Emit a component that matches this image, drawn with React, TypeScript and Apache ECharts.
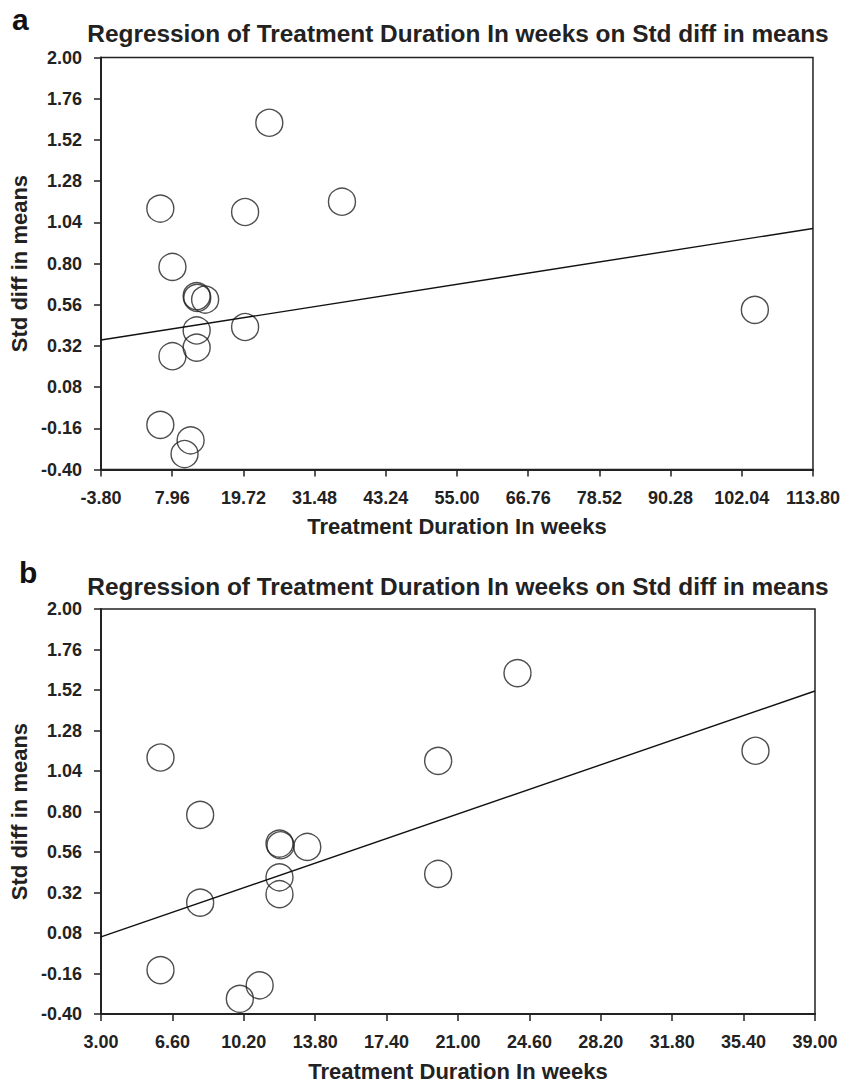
import React, { useEffect, useRef } from "react";
import * as echarts from "echarts";

const TITLE = "Regression of Treatment Duration In weeks on Std diff in means";
const X_NAME = "Treatment Duration In weeks";
const Y_NAME = "Std diff in means";

// Panel a: all studies (weeks, SMD)
const weeksA = [24, 6, 20, 36, 8, 12, 12.1, 13.4, 12, 20, 12, 8, 6, 11, 10, 104.2];
const smdA = [1.62, 1.12, 1.10, 1.16, 0.78, 0.61, 0.60, 0.59, 0.41, 0.43, 0.31, 0.26, -0.14, -0.23, -0.31, 0.53];
const fitA = [[-3.8, 0.354], [113.8, 1.004]];

// Panel b: without the outlier
const weeksB = [24, 6, 20, 36, 8, 12, 12.05, 13.4, 12, 20, 12, 8, 6, 11, 10];
const smdB = [1.62, 1.12, 1.10, 1.16, 0.78, 0.61, 0.60, 0.59, 0.41, 0.43, 0.31, 0.26, -0.14, -0.23, -0.31];
const fitB = [[3, 0.057], [39, 1.514]];

const xAxisA = { min: -3.8, max: 113.8, interval: 11.76 };
const xAxisB = { min: 3, max: 39, interval: 3.6 };
const yAxisRange = { min: -0.4, max: 2.0, interval: 0.24 };

const FONT = "'Liberation Sans', Arial, Helvetica, sans-serif";
const INK = "#222";

export default function App() {
  const ref = useRef<HTMLDivElement>(null);
  useEffect(() => {
    if (!ref.current) return;
    const chart = echarts.init(ref.current, undefined, { renderer: "svg" });
    const axisCommon = {
      type: "value" as const,
      axisLine: { show: true, onZero: false, lineStyle: { color: INK, width: 2 } },
      axisTick: { show: true, inside: false, length: 7, lineStyle: { color: INK, width: 1.5 } },
      splitLine: { show: false },
      axisLabel: {
        color: INK,
        fontFamily: FONT,
        fontWeight: "bold",
        fontSize: 18,
        margin: 19,
        formatter: (v: number) => v.toFixed(2),
      },
      nameTextStyle: { color: INK, fontFamily: FONT, fontWeight: "bold", fontSize: 22 },
    };
    const grids = [
      { left: 101, top: 57.5, width: 714, height: 412 },
      { left: 101, top: 609, width: 714, height: 413 },
    ].map((g) => ({ ...g, show: true, borderColor: INK, borderWidth: 1.5, backgroundColor: "transparent" }));
    const xRanges = [xAxisA, xAxisB];
    const mkPts = (xs: number[], ys: number[]) => xs.map((x, i) => [x, ys[i]]);
    const scatterStyle = {
      type: "scatter" as const,
      symbol: "circle",
      symbolSize: 27,
      clip: false,
      itemStyle: { color: "rgba(0,0,0,0)", borderColor: INK, borderWidth: 1.4 },
      silent: true,
    };
    const lineStyle = {
      type: "line" as const,
      symbol: "none",
      lineStyle: { color: "#111", width: 1.4 },
      silent: true,
    };
    chart.setOption({
      animation: false,
      grid: grids,
      xAxis: xRanges.map((r, i) => ({
        ...axisCommon,
        gridIndex: i,
        ...r,
        name: X_NAME,
        nameLocation: "middle",
        nameGap: 46,
      })),
      yAxis: [0, 1].map((i) => ({
        ...axisCommon,
        gridIndex: i,
        ...yAxisRange,
        name: Y_NAME,
        nameLocation: "middle",
        nameGap: 62,
      })),
      series: [
        { ...lineStyle, xAxisIndex: 0, yAxisIndex: 0, data: fitA },
        { ...scatterStyle, xAxisIndex: 0, yAxisIndex: 0, data: mkPts(weeksA, smdA) },
        { ...lineStyle, xAxisIndex: 1, yAxisIndex: 1, data: fitB },
        { ...scatterStyle, xAxisIndex: 1, yAxisIndex: 1, data: mkPts(weeksB, smdB) },
      ],
      graphic: [
        { type: "text", left: 12, top: 4, style: { text: "a", font: `bold 30px ${FONT}`, fill: "#111" } },
        { type: "text", left: 19, top: 557, style: { text: "b", font: `bold 30px ${FONT}`, fill: "#111" } },
        {
          type: "text",
          x: 458,
          y: 33.5,
          style: { text: TITLE, font: `bold 24.4px ${FONT}`, fill: INK, align: "center", verticalAlign: "middle" },
        },
        {
          type: "text",
          x: 458,
          y: 586.5,
          style: { text: TITLE, font: `bold 24.4px ${FONT}`, fill: INK, align: "center", verticalAlign: "middle" },
        },
      ],
    });
    return () => chart.dispose();
  }, []);
  return (
    <div
      ref={ref}
      style={{ position: "absolute", left: 0, top: 0, width: 843, height: 1083, background: "#fff" }}
    />
  );
}
